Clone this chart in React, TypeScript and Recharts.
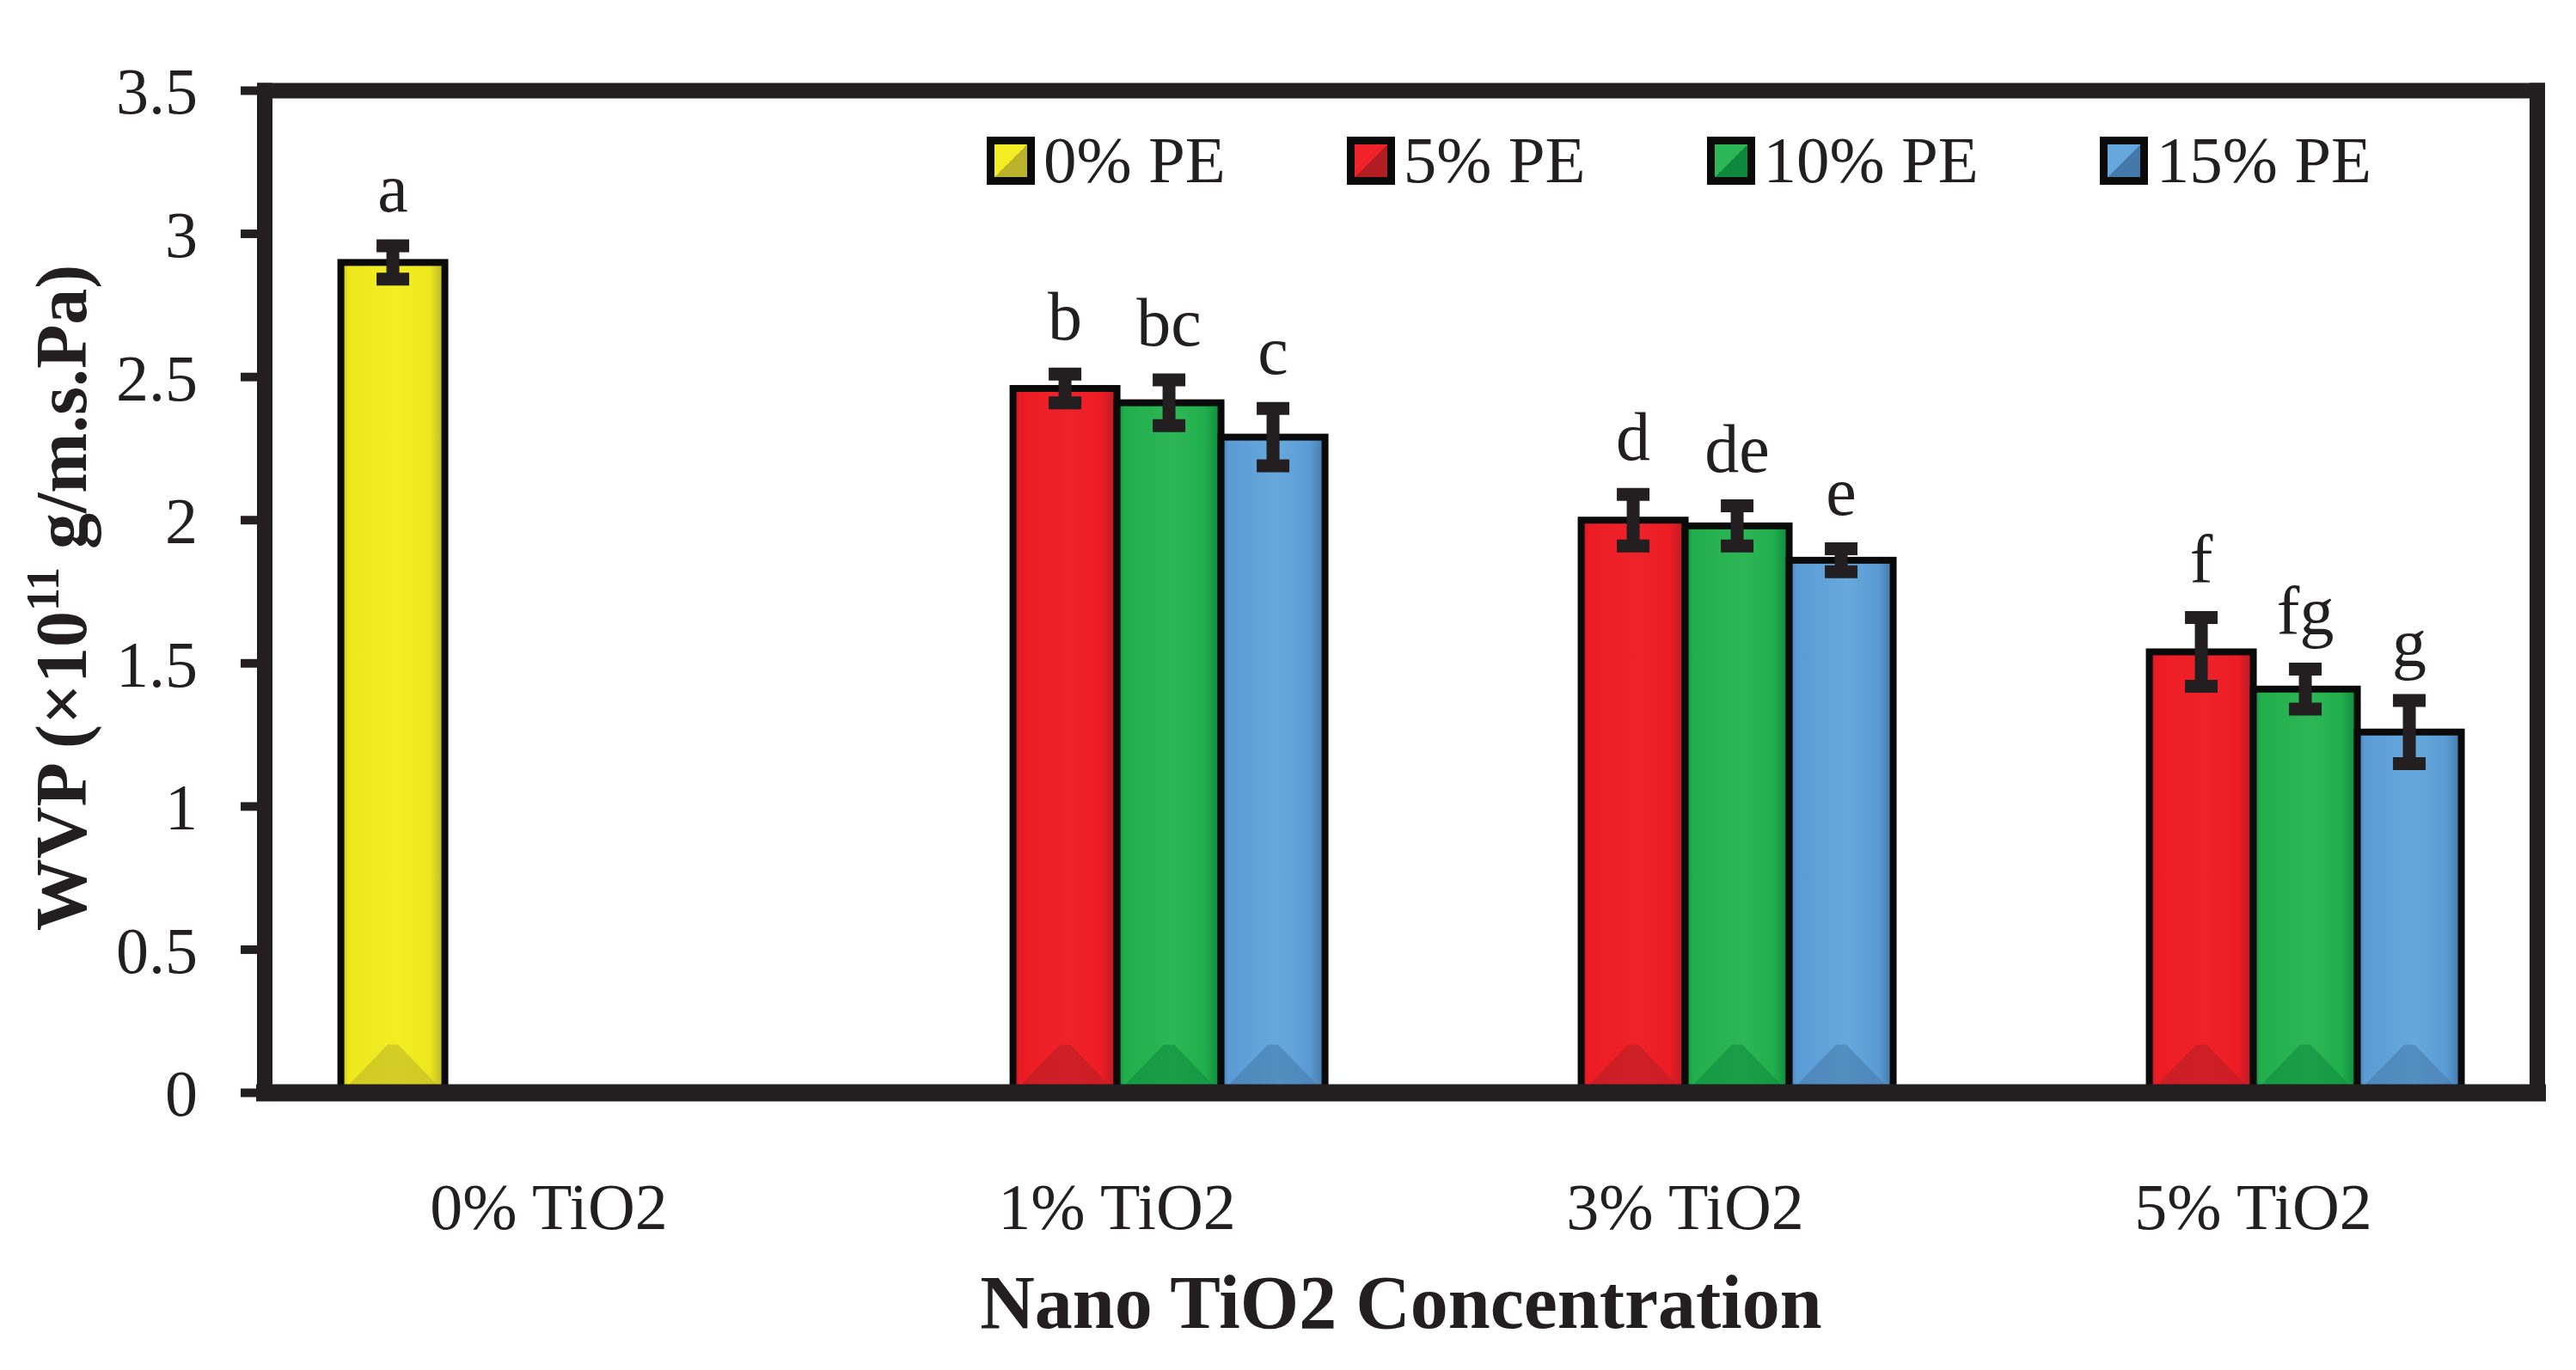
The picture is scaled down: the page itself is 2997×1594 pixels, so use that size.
import React from 'react';
import { BarChart, Bar, XAxis, YAxis, ErrorBar, LabelList, Legend } from 'recharts';

const categories = ['0% TiO2', '1% TiO2', '3% TiO2', '5% TiO2'];
const seriesNames = ['0% PE', '5% PE', '10% PE', '15% PE'];
const pe0 = [2.9, null, null, null];
const pe5 = [null, 2.46, 2.0, 1.54];
const pe10 = [null, 2.41, 1.98, 1.41];
const pe15 = [null, 2.29, 1.86, 1.26];
const pe0Err = [0.058, null, null, null];
const pe5Err = [null, 0.05, 0.09, 0.12];
const pe10Err = [null, 0.08, 0.07, 0.07];
const pe15Err = [null, 0.1, 0.04, 0.11];
const pe0Letters = ['a', null, null, null];
const pe5Letters = [null, 'b', 'd', 'f'];
const pe10Letters = [null, 'bc', 'de', 'fg'];
const pe15Letters = [null, 'c', 'e', 'g'];
const yTicks = [0, 0.5, 1, 1.5, 2, 2.5, 3, 3.5];

const FONT = "'Liberation Serif', 'Times New Roman', serif";
const INK = '#231F20';

const series = [
  { key: 'pe0', name: seriesNames[0], values: pe0, errs: pe0Err, letters: pe0Letters, base: '#EDE81C', light: '#F3EE24', dark: '#B9B22A' },
  { key: 'pe5', name: seriesNames[1], values: pe5, errs: pe5Err, letters: pe5Letters, base: '#ED1C24', light: '#EF2229', dark: '#B21D24' },
  { key: 'pe10', name: seriesNames[2], values: pe10, errs: pe10Err, letters: pe10Letters, base: '#22AE4C', light: '#2DB655', dark: '#0D883C' },
  { key: 'pe15', name: seriesNames[3], values: pe15, errs: pe15Err, letters: pe15Letters, base: '#5B9BD5', light: '#66A8DD', dark: '#4478A8' },
];

const data = categories.map((cat, i) => {
  const row: any = { cat };
  series.forEach((s) => {
    row[s.key] = s.values[i];
    row[s.key + 'Err'] = s.errs[i];
    row[s.key + 'Letter'] = s.letters[i];
  });
  return row;
});

const makeLetter = (s: any) => (props: any) => {
  const vb = props.viewBox || props;
  const x = vb.x ?? props.x;
  const y = vb.y ?? props.y;
  const width = vb.width ?? props.width;
  const height = vb.height ?? props.height;
  const { value } = props;
  if (value == null || !height) return null;
  const i = s.letters.indexOf(value);
  if (i < 0 || s.values[i] == null) return null;
  const ppu = Math.abs(height) / s.values[i];
  const topY = Math.min(y, y + height) - (s.errs[i] ?? 0) * ppu;
  return (
    <text x={x + width / 2} y={topY - 40} textAnchor="middle" fontSize={80} fontFamily={FONT} fill={INK}>
      {value}
    </text>
  );
};

const makeShape = (s: any, i: number) => (props: any) => {
  const { x, y, width, height } = props;
  if (x == null || y == null || !width || !height || height <= 0) return null;
  const b = y + height - 4;
  const inset = 4;
  const apex = Math.min(52, height * 0.4);
  return (
    <g>
      <rect x={x} y={y} width={width} height={height} fill={`url(#grad${i})`} stroke="#0a0a0a" strokeWidth={8} />
      <polygon
        points={`${x + inset},${b} ${x + width - inset},${b} ${x + width * 0.55},${b - apex} ${x + width * 0.45},${b - apex}`}
        fill={s.dark}
        opacity={0.55}
      />
    </g>
  );
};

const renderYLabel = (props: any) => {
  const vb = props.viewBox;
  const cy = vb.y + vb.height / 2 + 7;
  const x = 100;
  return (
    <text transform={`rotate(-90, ${x}, ${cy})`} x={x} y={cy} textAnchor="middle" fontFamily={FONT} fontWeight="bold" fontSize={84} fill={INK}>
      WVP (×10<tspan fontSize={54} dy={-32}>11</tspan>
      <tspan dy={32}> g/m.s.Pa)</tspan>
    </text>
  );
};

const renderXLabel = (props: any) => {
  const vb = props.viewBox;
  return (
    <text x={vb.x + vb.width / 2} y={vb.y + 273} textAnchor="middle" fontFamily={FONT} fontWeight="bold" fontSize={88} fill={INK}>
      Nano TiO2 Concentration
    </text>
  );
};

const renderLegend = () => (
  <div style={{ display: 'flex', alignItems: 'center' }}>
    {series.map((s) => (
      <div key={s.key} style={{ display: 'flex', alignItems: 'center', marginRight: 141 }}>
        <span
          style={{
            display: 'inline-block',
            width: 56,
            height: 56,
            boxSizing: 'border-box',
            border: '9px solid #0a0a0a',
            background: `linear-gradient(135deg, ${s.light} 50%, ${s.dark} 50%)`,
          }}
        />
        <span style={{ fontFamily: FONT, fontSize: 77, lineHeight: '77px', marginLeft: 10, color: INK, whiteSpace: 'nowrap' }}>
          {s.name}
        </span>
      </div>
    ))}
  </div>
);

const axisLineStyle = { stroke: INK, strokeWidth: 18, strokeLinecap: 'square' as const };

export default function App() {
  return (
    <div style={{ position: 'absolute', left: 0, top: 0, background: '#fff' }}>
      <BarChart
        width={2997}
        height={1594}
        data={data}
        margin={{ top: 104.5, right: 44, left: 108, bottom: 222.5 }}
        barCategoryGap="13.4%"
        barGap={0}
      >
        <defs>
          {series.map((s, i) => (
            <linearGradient key={s.key} id={`grad${i}`} x1="0" y1="0" x2="1" y2="0">
              <stop offset="0" stopColor={s.dark} />
              <stop offset="0.07" stopColor={s.base} />
              <stop offset="0.55" stopColor={s.light} />
              <stop offset="0.85" stopColor={s.base} />
              <stop offset="1" stopColor={s.dark} />
            </linearGradient>
          ))}
        </defs>
        <XAxis
          xAxisId="bottom"
          dataKey="cat"
          interval={0}
          tickLine={false}
          tickSize={0}
          tickMargin={105}
          height={100}
          axisLine={{ stroke: INK, strokeWidth: 20, strokeLinecap: 'square' }}
          tick={{ fontSize: 76, fontFamily: FONT, fill: INK }}
          label={renderXLabel}
        />
        <XAxis xAxisId="top" orientation="top" dataKey="cat" tick={false} tickLine={false} height={1} axisLine={axisLineStyle} />
        <YAxis
          yAxisId="left"
          domain={[0, 3.5]}
          ticks={yTicks}
          interval={0}
          width={200}
          tickSize={28}
          tickMargin={50}
          tickLine={{ stroke: INK, strokeWidth: 10 }}
          axisLine={axisLineStyle}
          tick={{ fontSize: 76, fontFamily: FONT, fill: INK }}
          label={renderYLabel}
        />
        <YAxis yAxisId="right" orientation="right" domain={[0, 3.5]} tick={false} tickLine={false} width={1} axisLine={axisLineStyle} />
        <Legend
          content={renderLegend}
          layout="horizontal"
          verticalAlign="middle"
          align="center"
          wrapperStyle={{ position: 'absolute', left: 1148, top: 148, width: 1750, height: 56 }}
        />
        {series.map((s, i) => (
          <Bar
            key={s.key}
            xAxisId="bottom"
            yAxisId="left"
            dataKey={s.key}
            name={s.name}
            fill={`url(#grad${i})`}
            stroke="#0a0a0a"
            strokeWidth={8}
            shape={makeShape(s, i)}
            isAnimationActive={false}
          >
            <ErrorBar dataKey={s.key + 'Err'} width={19} strokeWidth={15} stroke={INK} direction="y" />
            <LabelList dataKey={s.key + 'Letter'} content={makeLetter(s)} />
          </Bar>
        ))}
      </BarChart>
    </div>
  );
}
